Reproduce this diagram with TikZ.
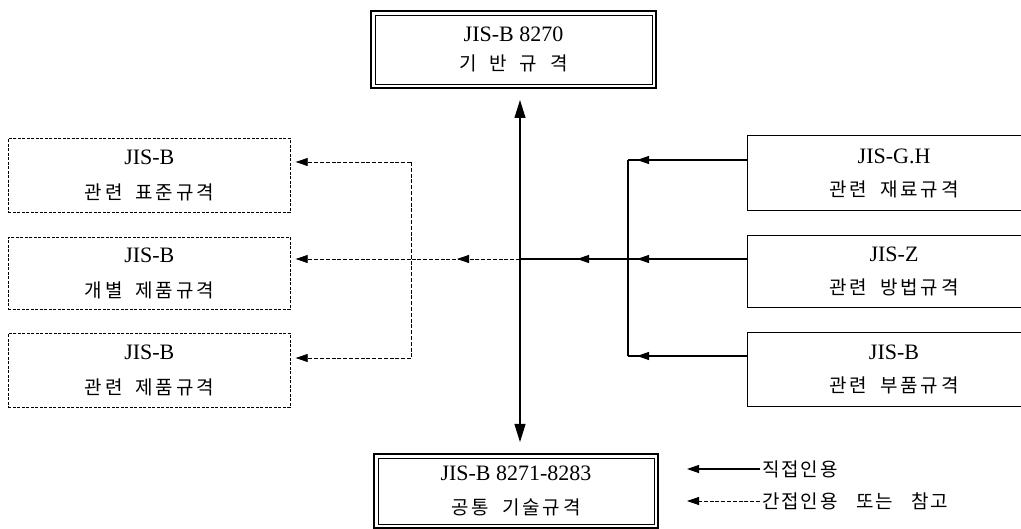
\documentclass[tikz,border=0pt]{standalone}
\usepackage{fontspec}
\setmainfont{Liberation Serif}
\newfontfamily\kr[LetterSpace=15,WordSpace=1.8]{Noto Sans CJK KR}
\newfontfamily\krl[LetterSpace=10,WordSpace=3]{Noto Sans CJK KR}
\usetikzlibrary{arrows.meta}
\newcommand\krt[1]{{\kr\fontsize{19}{19}\selectfont #1}}
\newcommand\krlg[1]{{\krl\fontsize{19}{19}\selectfont #1}}
\begin{document}
\begin{tikzpicture}[x=1pt,y=-1pt,
  >={Triangle[length=12pt,width=8pt]},
  conn/.style={line width=1.1pt},
  dconn/.style={line width=0.8pt, dash pattern=on 4pt off 1.8pt},
  boxbase/.style={inner sep=0pt, anchor=north west, align=center},
  solidbox/.style={boxbase, draw, line width=1.1pt, minimum width=293pt,
    font=\fontsize{22}{33}\selectfont},
  dashbox/.style={boxbase, draw, line width=0.7pt, dash pattern=on 3pt off 1.5pt,
    minimum width=282pt, font=\fontsize{22}{35}\selectfont},
  dblbox/.style={boxbase, draw, line width=2pt},
  innerframe/.style={line width=0.9pt}
]
\useasboundingbox (0,0) rectangle (1021,529);

% top and bottom double-framed boxes
\node[dblbox, minimum width=285pt, minimum height=77pt,
      font=\fontsize{22}{29}\selectfont] (top) at (370,10)
      {JIS-B 8270\\\krt{기 반 규 격}};
\draw[innerframe] ([xshift=5pt,yshift=-5pt]top.north west) rectangle ([xshift=-5pt,yshift=5pt]top.south east);
\node[dblbox, minimum width=284pt, minimum height=74pt,
      font=\fontsize{22}{34}\selectfont] (bot) at (373,453)
      {JIS-B 8271-8283\\\krt{공통 기술규격}};
\draw[innerframe] ([xshift=5pt,yshift=-5pt]bot.north west) rectangle ([xshift=-5pt,yshift=5pt]bot.south east);

% left dashed boxes
\node[dashbox, minimum height=74pt] (l1) at (8,138) {JIS-B\\\krt{관련 표준규격}};
\node[dashbox, minimum height=72pt] (l2) at (8,237) {JIS-B\\\krt{개별 제품규격}};
\node[dashbox, minimum height=74pt] (l3) at (8,333) {JIS-B\\\krt{관련 제품규격}};

% right solid boxes
\node[solidbox, minimum height=75pt] (r1) at (747,135) {JIS-G.H\\\krt{관련 재료규격}};
\node[solidbox, minimum height=72pt] (r2) at (747,235) {JIS-Z\\\krt{관련 방법규격}};
\node[solidbox, minimum height=74pt] (r3) at (747,332) {JIS-B\\\krt{관련 부품규격}};

% junction coordinates
\coordinate (vx) at (520,259);
\coordinate (sj) at (628,259);
\coordinate (s1) at (628,160);
\coordinate (s3) at (628,356);
\coordinate (dj) at (411,259);
\coordinate (d1) at (411,162);
\coordinate (d3) at (411,358);

% main vertical double arrow
\draw[conn, {Triangle[length=18pt,width=11pt]}-{Triangle[length=18pt,width=11pt]},
      shorten <=11pt, shorten >=11pt] (top.south -| vx) -- (bot.north -| vx);

% solid (direct) references from the right
\draw[conn] (r1.west |- s1) -- (s1);
\draw[conn,->] (r1.west |- s1) -- ([xshift=9pt]s1);
\draw[conn] (r2.west |- sj) -- (sj);
\draw[conn,->] (r2.west |- sj) -- ([xshift=9pt]sj);
\draw[conn] (r3.west |- s3) -- (s3);
\draw[conn,->] (r3.west |- s3) -- ([xshift=9pt]s3);
\draw[conn] (s1) -- (s3);
\draw[conn] (sj) -- (vx);
\draw[conn,->] (sj) -- ([xshift=-51pt]sj);

% dashed (indirect) references to the left
\draw[dconn] (vx) -- (dj);
\draw[dconn,->] (vx) -- ([xshift=-63pt]vx);
\draw[dconn] (d1) -- (d3);
\draw[dconn,->] (d1) -- ([xshift=5pt]l1.east |- d1);
\draw[dconn,->] (dj) -- ([xshift=5pt]l2.east |- dj);
\draw[dconn,->] (d3) -- ([xshift=5pt]l3.east |- d3);

% legend
\node[anchor=west, inner sep=2pt] (lt1) at (760,469) {\krlg{직접인용}};
\node[anchor=west, inner sep=2pt] (lt2) at (760,501) {\krlg{간접인용 또는 참고}};
\draw[conn,->] (lt1.west) -- ([xshift=-73pt]lt1.west);
\draw[dconn,->] (lt2.west) -- ([xshift=-73pt]lt2.west);
\end{tikzpicture}
\end{document}
